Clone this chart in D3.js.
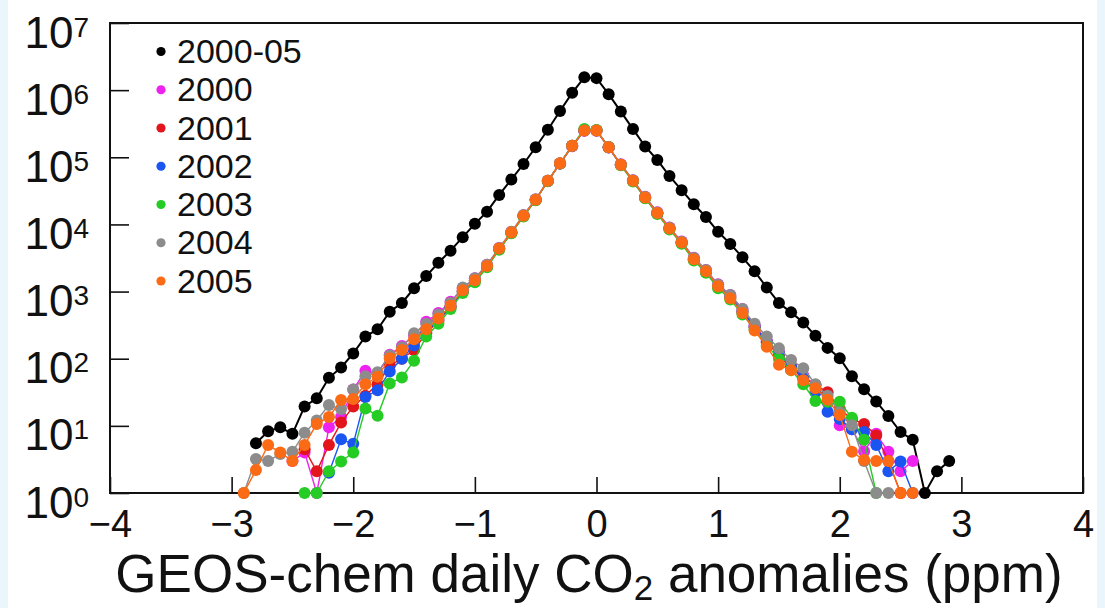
<!DOCTYPE html>
<html>
<head>
<meta charset="utf-8">
<script src="https://cdn.jsdelivr.net/npm/d3@7"></script>
<style>
  html, body { margin: 0; padding: 0; background: #ffffff; }
  svg { display: block; font-family: "Liberation Sans", Arial, Helvetica, sans-serif; }
</style>
</head>
<body>
<svg id="chart" width="1105" height="608"></svg>
<script>
// ---- data ----
const bins = [-2.9, -2.8, -2.7, -2.6, -2.5, -2.4, -2.3, -2.2, -2.1, -2.0,
  -1.9, -1.8, -1.7, -1.6, -1.5, -1.4, -1.3, -1.2, -1.1, -1.0,
  -0.9, -0.8, -0.7, -0.6, -0.5, -0.4, -0.3, -0.2, -0.1, 0.0,
  0.1, 0.2, 0.3, 0.4, 0.5, 0.6, 0.7, 0.8, 0.9, 1.0,
  1.1, 1.2, 1.3, 1.4, 1.5, 1.6, 1.7, 1.8, 1.9, 2.0,
  2.1, 2.2, 2.3, 2.4, 2.5, 2.6, 2.7, 2.8, 2.9];

const s2000_05 = [null, 5.5, 8.3, 9.5, 7.6, 19.5, 25.7, 52, 74, 120,
  214, 275, 500, 676, 1120, 1700, 2690, 4070, 6460, 10200,
  15500, 27500, 46800, 79400, 141000, 257000, 490000, 912000, 1550000, 1510000,
  871000, 479000, 263000, 145000, 91200, 52500, 32400, 20000, 12900, 7760,
  5130, 3240, 2000, 1150, 676, 490, 347, 219, 145, 102,
  55, 35, 23, 14, 8.1, 6.2, 1, 2.1, 3.0];

const s2000 = [null, null, null, null, 3.0, 4.0, 1, 9.5, 13.5, 34.7,
  66.1, 60.3, 115, 155, 224, 355, 479, 708, 1122, 1585,
  2500, 4450, 7700, 13700, 23500, 44500, 80500, 146000, 248000, 249000,
  141000, 78500, 45500, 25800, 15200, 9000, 5550, 3200, 2100, 1280,
  891, 550, 316, 186, 126, 79.4, 56.2, 40.7, 22.4, 10.2,
  8.9, 4.2, 7.6, 4.1, 2.1, 3.0, null, null, null];

const s2001 = [null, null, null, null, null, 4.5, 2.1, 5.2, 11.2, 19.5,
  28.2, 41.7, 79.4, 100, 135, 240, 363, 589, 1000, 1445,
  2380, 4300, 7500, 13300, 23200, 44300, 80800, 148000, 252000, 252000,
  141000, 77000, 44300, 24900, 14600, 8600, 5300, 3000, 1950, 1180,
  832, 501, 295, 174, 112, 72.4, 52.5, 40.7, 31.6, 17.8,
  12.6, 10.7, 7.2, 3.0, 1, null, null, null, null];

const s2002 = [null, null, null, null, null, null, null, 2.0, 6.3, 5.4,
  26.9, 33.9, 64.6, 100, 158, 251, 380, 603, 1000, 1445,
  2370, 4300, 7500, 13300, 23300, 44500, 81000, 148000, 251000, 250000,
  140000, 77200, 44400, 25000, 14700, 8650, 5300, 2980, 1960, 1170,
  832, 501, 302, 178, 120, 75.9, 52.5, 31.6, 16.2, 12.6,
  8.9, 8.1, 5.2, 2.1, 2.95, 1, null, null, null];

const s2003 = [null, null, null, null, null, 1, 1, 2.1, 2.95, 4.0,
  18.2, 14.1, 42.7, 52.5, 93.3, 214, 331, 550, 955, 1380,
  2300, 4200, 7400, 13100, 23000, 44000, 81000, 149000, 263000, 255000,
  142000, 76000, 43600, 24500, 14300, 8400, 5150, 2900, 1900, 1120,
  759, 457, 275, 158, 100, 67.6, 41.7, 23.4, 22.9, 22.9,
  13.2, 6.2, 1, null, null, null, null, null, null];

const s2004 = [1, 3.2, 3.0, 3.8, 4.1, 7.9, 12, 20.4, 17.8, 34.7,
  55, 63.1, 112, 148, 240, 331, 457, 676, 1148, 1585,
  2510, 4470, 7760, 13800, 23700, 45000, 81000, 147000, 250000, 250000,
  142000, 78000, 45500, 25700, 15100, 8900, 5500, 3160, 2090, 1260,
  891, 550, 331, 214, 143, 95.5, 72.4, 41.7, 28.2, 15.8,
  10.2, 3.0, 1, 1, null, null, null, null, null];

const s2005 = [1, 2.2, 5.2, 4.0, 3.0, 5.2, 10.7, 13.5, 24.3, 25.1,
  41.7, 53.7, 102, 135, 195, 275, 398, 617, 1050, 1480,
  2400, 4370, 7590, 13500, 23400, 44700, 81300, 148000, 251000, 251000,
  141000, 77600, 44700, 25100, 14800, 8710, 5370, 3020, 2000, 1200,
  794, 479, 263, 151, 81.3, 67.6, 47.9, 36.3, 24.5, 14.5,
  4.1, 3.1, 3.0, 3.0, 1, 1, null, null, null];

const seriesNames = ["2000-05", "2000", "2001", "2002", "2003", "2004", "2005"];
const seriesValues = [s2000_05, s2000, s2001, s2002, s2003, s2004, s2005];
const seriesColors = ["#000000", "#ee22ee", "#e3151c", "#1a55f2", "#24cc24", "#8c8c8c", "#fb6a14"];

const xTicks = [-4, -3, -2, -1, 0, 1, 2, 3, 4];
const yExponents = [0, 1, 2, 3, 4, 5, 6, 7];
const xTitle = ["GEOS-chem daily CO", "2", " anomalies (ppm)"];

// ---- layout ----
const svg = d3.select("#chart");
const L = 110, R = 1083, T = 23, B = 493;

svg.append("rect").attr("x", 0).attr("y", 0).attr("width", 1105).attr("height", 608).attr("fill", "#ffffff");
svg.append("rect").attr("x", 0).attr("y", 0).attr("width", 8).attr("height", 608).attr("fill", "#eaf5fc");
svg.append("rect").attr("x", 1097).attr("y", 0).attr("width", 8).attr("height", 608).attr("fill", "#eaf5fc");

const x = d3.scaleLinear().domain([-4, 4]).range([L, R]);
const y = d3.scaleLog().domain([1, 1e7]).range([B, T]);

// x axis
const xAxis = svg.append("g").attr("transform", `translate(0,${B})`)
  .call(d3.axisBottom(x).tickValues(xTicks).tickSize(-16).tickPadding(17.5).tickFormat(d3.format("d")));
xAxis.select(".domain").remove();
xAxis.selectAll(".tick line").attr("stroke", "#111").attr("stroke-width", 1.6);
xAxis.selectAll(".tick text").attr("font-size", 38).attr("fill", "#111")
  .attr("font-family", '"Liberation Sans", Arial, sans-serif');

// y axis
const yAxis = svg.append("g").attr("transform", `translate(${L},0)`)
  .call(d3.axisLeft(y).tickValues(yExponents.map(e => Math.pow(10, e))).tickSize(-19).tickFormat(""));
yAxis.select(".domain").remove();
yAxis.selectAll(".tick line").attr("stroke", "#111").attr("stroke-width", 1.6);
yAxis.selectAll(".tick").each(function (d, i) {
  const t = d3.select(this).append("text")
    .attr("x", -21).attr("y", 24).attr("text-anchor", "end")
    .attr("fill", "#111").attr("font-size", 44);
  t.append("tspan").text("10");
  t.append("tspan").attr("font-size", 28).attr("dy", -11).text(String(yExponents[i]));
});

// frame
svg.append("rect").attr("x", L).attr("y", T).attr("width", R - L).attr("height", B - T)
  .attr("fill", "none").attr("stroke", "#111").attr("stroke-width", 2);

// x title
const tt = svg.append("text").attr("x", 589).attr("y", 592).attr("text-anchor", "middle")
  .attr("font-size", 53).attr("fill", "#111");
tt.append("tspan").text(xTitle[0]);
tt.append("tspan").attr("font-size", 35).attr("dy", 8).text(xTitle[1]);
tt.append("tspan").attr("dy", -8).text(xTitle[2]);

// series
const line = d3.line().defined(d => d.v != null).x(d => x(d.b)).y(d => y(d.v));
seriesValues.forEach((vals, si) => {
  const pts = bins.map((b, i) => ({ b, v: vals[i] }));
  const g = svg.append("g");
  g.append("path").datum(pts).attr("d", line).attr("fill", "none")
    .attr("stroke", seriesColors[si]).attr("stroke-width", si === 0 ? 2 : 1.4);
  g.selectAll("circle").data(pts.filter(d => d.v != null)).join("circle")
    .attr("cx", d => x(d.b)).attr("cy", d => y(d.v)).attr("r", 6)
    .attr("fill", seriesColors[si]);
});

// legend
const lg = svg.append("g");
seriesNames.forEach((n, i) => {
  const cy = 51.5 + i * 38.25;
  lg.append("circle").attr("cx", 161).attr("cy", cy).attr("r", 4.6).attr("fill", seriesColors[i]);
  lg.append("text").attr("x", 177).attr("y", cy + 11.5).attr("font-size", 34).attr("fill", "#111").text(n);
});
</script>
</body>
</html>
